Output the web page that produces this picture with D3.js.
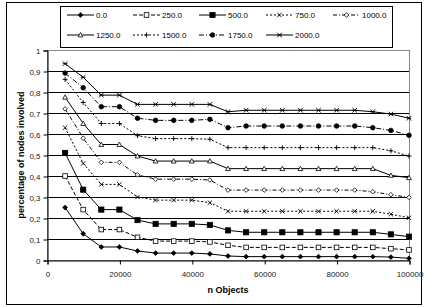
<!DOCTYPE html>
<html>
<head>
<meta charset="utf-8">
<script src="https://cdn.jsdelivr.net/npm/d3@7"></script>
<style>
  body { margin: 0; background: #fff; }
  svg { display: block; font-family: "Liberation Sans", Arial, sans-serif; }
</style>
</head>
<body>
<svg id="chart" width="425" height="307"></svg>
<script>
var xValues = [5000, 10000, 15000, 20000, 25000, 30000, 35000, 40000, 45000, 50000,
               55000, 60000, 65000, 70000, 75000, 80000, 85000, 90000, 95000, 100000];

var seriesNames = ['0.0', '250.0', '500.0', '750.0', '1000.0', '1250.0', '1500.0', '1750.0', '2000.0'];

var s0    = [0.25, 0.125, 0.062, 0.062, 0.043, 0.033, 0.033, 0.033, 0.029, 0.019, 0.016, 0.016, 0.016, 0.016, 0.016, 0.016, 0.016, 0.016, 0.014, 0.008];
var s250  = [0.40, 0.24, 0.145, 0.145, 0.108, 0.09, 0.09, 0.09, 0.086, 0.07, 0.06, 0.06, 0.06, 0.06, 0.06, 0.06, 0.06, 0.06, 0.054, 0.048];
var s500  = [0.51, 0.335, 0.24, 0.24, 0.19, 0.172, 0.172, 0.172, 0.167, 0.141, 0.132, 0.132, 0.132, 0.132, 0.132, 0.132, 0.132, 0.132, 0.122, 0.111];
var s750  = [0.63, 0.46, 0.36, 0.36, 0.30, 0.285, 0.285, 0.285, 0.273, 0.232, 0.232, 0.232, 0.232, 0.232, 0.232, 0.232, 0.232, 0.232, 0.218, 0.201];
var s1000 = [0.72, 0.58, 0.465, 0.465, 0.405, 0.385, 0.385, 0.385, 0.381, 0.333, 0.333, 0.333, 0.333, 0.333, 0.333, 0.333, 0.333, 0.325, 0.311, 0.298];
var s1250 = [0.775, 0.65, 0.55, 0.55, 0.495, 0.471, 0.471, 0.471, 0.471, 0.435, 0.435, 0.435, 0.435, 0.435, 0.435, 0.435, 0.435, 0.435, 0.403, 0.392];
var s1500 = [0.86, 0.75, 0.65, 0.65, 0.592, 0.578, 0.578, 0.578, 0.575, 0.535, 0.535, 0.535, 0.535, 0.535, 0.535, 0.535, 0.535, 0.535, 0.52, 0.495];
var s1750 = [0.89, 0.82, 0.73, 0.73, 0.675, 0.665, 0.665, 0.665, 0.67, 0.63, 0.638, 0.638, 0.638, 0.638, 0.638, 0.638, 0.638, 0.63, 0.617, 0.594];
var s2000 = [0.935, 0.87, 0.785, 0.785, 0.741, 0.741, 0.741, 0.741, 0.741, 0.706, 0.713, 0.713, 0.713, 0.713, 0.713, 0.713, 0.713, 0.706, 0.695, 0.675];

var xTicks = [0, 20000, 40000, 60000, 80000, 100000];
var yTicks = [0, 0.1, 0.2, 0.3, 0.4, 0.5, 0.6, 0.7, 0.8, 0.9, 1];

var seriesValues = [s0, s250, s500, s750, s1000, s1250, s1500, s1750, s2000];

// line / marker style per series
var styles = [
    {dash: null,      marker: 'diamond',  fill: '#000', size: 2.4, stroke: '#000'},
    {dash: '4,2',     marker: 'square',   fill: '#fff', size: 2.3, stroke: '#000'},
    {dash: null,      marker: 'square',   fill: '#000', size: 2.6, stroke: '#000'},
    {dash: '2,2',     marker: 'cross',    fill: 'none', size: 2.2, stroke: '#000'},
    {dash: '4,2,1,2', marker: 'diamond',  fill: '#fff', size: 2.3, stroke: '#000'},
    {dash: null,      marker: 'triangle', fill: '#fff', size: 2.4, stroke: '#000'},
    {dash: '2,2',     marker: 'plus',     fill: 'none', size: 2.5, stroke: '#000'},
    {dash: '5,2,1,2', marker: 'circle',   fill: '#000', size: 2.3, stroke: '#000'},
    {dash: null,      marker: 'star',     fill: 'none', size: 2.3, stroke: '#000'}
];

var svg = d3.select('#chart');

var PLOT_LEFT = 47, PLOT_RIGHT = 409, PLOT_TOP = 50, PLOT_BOTTOM = 260;

var x = d3.scaleLinear().domain([0, 100000]).range([PLOT_LEFT, PLOT_RIGHT]);
var y = d3.scaleLinear().domain([0, 1]).range([PLOT_BOTTOM, PLOT_TOP]);

// outer frame
svg.append('rect')
    .attr('x', 6.5).attr('y', 2.5)
    .attr('width', 415).attr('height', 302)
    .attr('fill', 'none').attr('stroke', '#000').attr('stroke-width', 1);

// plot frame (grey)
svg.append('rect')
    .attr('x', PLOT_LEFT + 0.5).attr('y', PLOT_TOP + 0.5)
    .attr('width', PLOT_RIGHT - PLOT_LEFT).attr('height', PLOT_BOTTOM - PLOT_TOP)
    .attr('fill', 'none').attr('stroke', '#888').attr('stroke-width', 1);

// horizontal gridlines
svg.selectAll('.grid').data(yTicks.slice(1, -1)).enter().append('line')
    .attr('class', 'grid')
    .attr('x1', PLOT_LEFT).attr('x2', PLOT_RIGHT)
    .attr('y1', function(d) { return Math.round(y(d)) + 0.5; })
    .attr('y2', function(d) { return Math.round(y(d)) + 0.5; })
    .attr('stroke', '#000').attr('stroke-width', 1);

// y axis
var yAxis = d3.axisLeft(y).tickValues(yTicks).tickSize(4).tickPadding(3)
    .tickFormat(function(d) { return d3.format('.1~f')(d).replace('.', ','); });
var gy = svg.append('g').attr('transform', 'translate(' + (PLOT_LEFT + 0.5) + ',0.5)').call(yAxis);
gy.select('.domain').attr('stroke', '#000');
gy.selectAll('text').attr('font-size', 8).attr('fill', '#222')
    .attr('font-family', '"Liberation Sans", Arial, sans-serif');

// x axis
var xAxis = d3.axisBottom(x).tickValues(xTicks).tickSize(4).tickPadding(7)
    .tickFormat(d3.format('d'));
var gx = svg.append('g').attr('transform', 'translate(0.5,' + (PLOT_BOTTOM + 0.5) + ')').call(xAxis);
gx.select('.domain').attr('stroke', '#000');
gx.selectAll('text').attr('font-size', 8).attr('fill', '#222')
    .attr('font-family', '"Liberation Sans", Arial, sans-serif');

// axis titles
svg.append('text')
    .attr('x', 228).attr('y', 293)
    .attr('text-anchor', 'middle')
    .attr('font-size', 9).attr('font-weight', 'bold')
    .text('n Objects');

svg.append('text')
    .attr('transform', 'translate(24,' + ((PLOT_TOP + PLOT_BOTTOM) / 2) + ') rotate(-90)')
    .attr('text-anchor', 'middle')
    .attr('font-size', 9).attr('font-weight', 'bold')
    .text('percentage of nodes involved');

var drawMarker = function(g, st, cx, cy) {
    var s = st.size;
    if (st.marker === 'diamond') {
        g.append('path').attr('d', 'M' + cx + ',' + (cy - s) + 'L' + (cx + s) + ',' + cy + 'L' + cx + ',' + (cy + s) + 'L' + (cx - s) + ',' + cy + 'Z')
            .attr('fill', st.fill).attr('stroke', st.stroke).attr('stroke-width', 0.8);
    } else if (st.marker === 'square') {
        g.append('rect').attr('x', cx - s).attr('y', cy - s).attr('width', 2 * s).attr('height', 2 * s)
            .attr('fill', st.fill).attr('stroke', st.stroke).attr('stroke-width', 0.8);
    } else if (st.marker === 'triangle') {
        g.append('path').attr('d', 'M' + cx + ',' + (cy - s) + 'L' + (cx + s) + ',' + (cy + s * 0.8) + 'L' + (cx - s) + ',' + (cy + s * 0.8) + 'Z')
            .attr('fill', st.fill).attr('stroke', st.stroke).attr('stroke-width', 0.8);
    } else if (st.marker === 'circle') {
        g.append('circle').attr('cx', cx).attr('cy', cy).attr('r', s)
            .attr('fill', st.fill).attr('stroke', st.stroke).attr('stroke-width', 0.8);
    } else if (st.marker === 'cross' || st.marker === 'star') {
        g.append('path').attr('d', 'M' + (cx - s) + ',' + (cy - s) + 'L' + (cx + s) + ',' + (cy + s) + 'M' + (cx - s) + ',' + (cy + s) + 'L' + (cx + s) + ',' + (cy - s))
            .attr('stroke', st.stroke).attr('stroke-width', 0.9).attr('fill', 'none');
        if (st.marker === 'star') {
            g.append('path').attr('d', 'M' + (cx - s) + ',' + cy + 'L' + (cx + s) + ',' + cy)
                .attr('stroke', st.stroke).attr('stroke-width', 0.9);
        }
    } else if (st.marker === 'plus') {
        g.append('path').attr('d', 'M' + (cx - s) + ',' + cy + 'L' + (cx + s) + ',' + cy + 'M' + cx + ',' + (cy - s) + 'L' + cx + ',' + (cy + s))
            .attr('stroke', st.stroke).attr('stroke-width', 0.9);
    }
};

var line = d3.line()
    .x(function(d) { return x(d[0]); })
    .y(function(d) { return y(d[1]); });

seriesValues.forEach(function(vals, i) {
    var st = styles[i];
    var pts = xValues.map(function(xv, j) { return [xv, vals[j]]; });
    var g = svg.append('g').attr('class', 'series');
    g.append('path').datum(pts)
        .attr('d', line)
        .attr('fill', 'none')
        .attr('stroke', '#000')
        .attr('stroke-width', 1)
        .attr('stroke-dasharray', st.dash);
    pts.forEach(function(p) { drawMarker(g, st, x(p[0]), y(p[1])); });
});

// legend
var LEG_X = 60, LEG_Y = 6, LEG_W = 332, LEG_H = 41;
svg.append('rect')
    .attr('x', LEG_X + 0.5).attr('y', LEG_Y + 0.5)
    .attr('width', LEG_W).attr('height', LEG_H)
    .attr('fill', '#fff').attr('stroke', '#000').attr('stroke-width', 1);

var legendCols = [67, 133, 199, 266, 333];
var legendRows = [15, 35];

seriesNames.forEach(function(name, i) {
    var st = styles[i];
    var lx = legendCols[i % 5];
    var ly = legendRows[Math.floor(i / 5)];
    var g = svg.append('g').attr('class', 'legend-item');
    g.append('line')
        .attr('x1', lx).attr('x2', lx + 27)
        .attr('y1', ly).attr('y2', ly)
        .attr('stroke', '#000').attr('stroke-width', 1)
        .attr('stroke-dasharray', st.dash);
    drawMarker(g, st, lx + 13.5, ly);
    g.append('text')
        .attr('x', lx + 29).attr('y', ly + 3)
        .attr('font-size', 8)
        .text(name);
});
</script>
</body>
</html>
